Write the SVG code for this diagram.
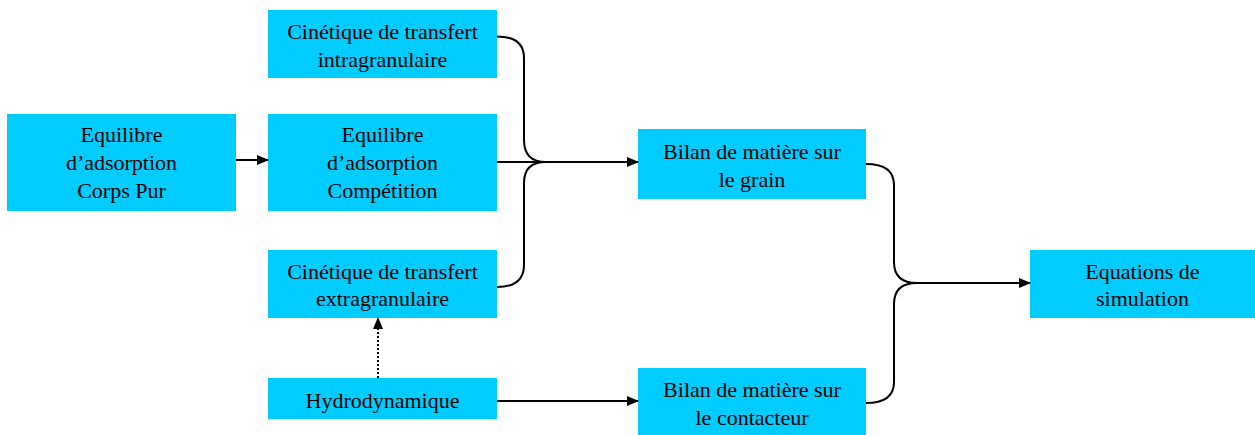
<svg xmlns="http://www.w3.org/2000/svg" width="1255" height="435" viewBox="0 0 1255 435">
<style>
.box{fill:#00CCFF;}
text{font-family:"Liberation Serif","DejaVu Serif",serif;font-size:22px;fill:#000;text-anchor:middle;}
.c{fill:none;stroke:#000;stroke-width:2;}
.d{fill:none;stroke:#000;stroke-width:2;stroke-dasharray:2 2;}
</style>
<defs>
<marker id="ah" markerWidth="12" markerHeight="10" refX="11" refY="5" orient="auto" markerUnits="userSpaceOnUse">
<path d="M0,0 L12,5 L0,10 Z" fill="#000"/>
</marker>
</defs>
<g id="n1"><rect class="box" x="7" y="114" width="229" height="97"/><text x="121.5" y="142">Equilibre</text><text x="121.5" y="170">d’adsorption</text><text x="121.5" y="198">Corps Pur</text></g>
<g id="n2"><rect class="box" x="268" y="10" width="229" height="68"/><text x="382.5" y="39">Cinétique de transfert</text><text x="382.5" y="67">intragranulaire</text></g>
<g id="n3"><rect class="box" x="268" y="114" width="229" height="97"/><text x="382.5" y="142">Equilibre</text><text x="382.5" y="170">d’adsorption</text><text x="382.5" y="198">Compétition</text></g>
<g id="n4"><rect class="box" x="268" y="250" width="229" height="68"/><text x="382.5" y="279">Cinétique de transfert</text><text x="382.5" y="306">extragranulaire</text></g>
<g id="n5"><rect class="box" x="268" y="378" width="229" height="41"/><text x="382.5" y="408">Hydrodynamique</text></g>
<g id="n6"><rect class="box" x="638" y="129" width="228" height="70"/><text x="752" y="159">Bilan de matière sur</text><text x="752" y="187">le grain</text></g>
<g id="n7"><rect class="box" x="638" y="368" width="228" height="67"/><text x="752" y="397">Bilan de matière sur</text><text x="752" y="425">le contacteur</text></g>
<g id="n8"><rect class="box" x="1030" y="250" width="225" height="68"/><text x="1142.5" y="279">Equations de</text><text x="1142.5" y="306">simulation</text></g>
<g id="connectors">
<path class="c" d="M236,160 L268,160" marker-end="url(#ah)"/>
<path class="c" d="M497,36.5 Q524,36.5 524,58 L524,140 Q524,162 546,162"/>
<path class="c" d="M497,287 Q524,287 524,265 L524,183 Q524,162 546,162"/>
<path class="c" d="M497,162 L638,162" marker-end="url(#ah)"/>
<path class="c" d="M866,164 Q894,164 894,185 L894,262 Q894,283 917,283"/>
<path class="c" d="M866,403 Q894,403 894,382 L894,304 Q894,283 917,283"/>
<path class="c" d="M917,283 L1030,283" marker-end="url(#ah)"/>
<path class="c" d="M497,401 L638,401" marker-end="url(#ah)"/>
<path class="d" d="M378,378 L378,318" marker-end="url(#ah)"/>
</g>
</svg>
